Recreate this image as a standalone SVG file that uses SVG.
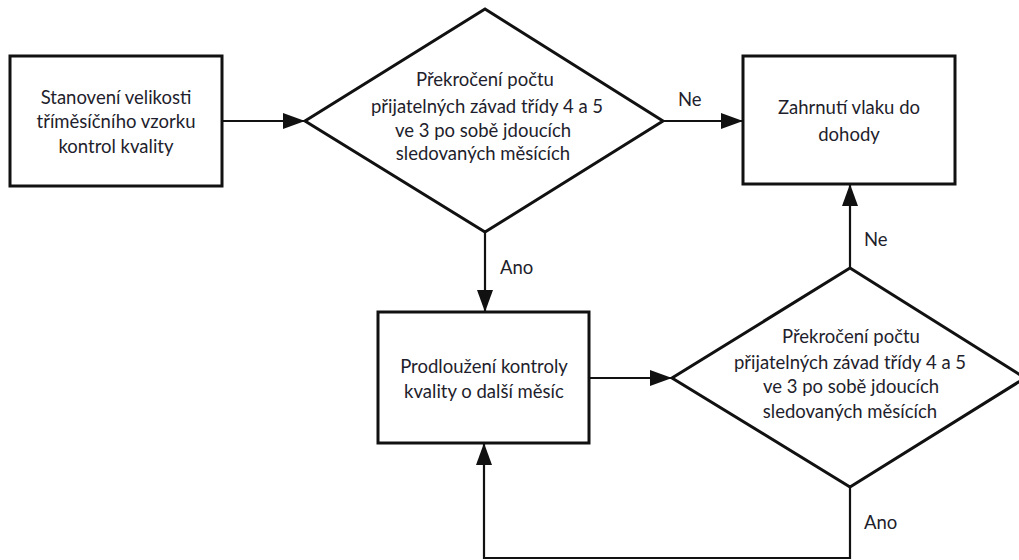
<svg xmlns="http://www.w3.org/2000/svg" width="1019" height="560" viewBox="0 0 1019 560">
  <style>
    .box { fill: #ffffff; stroke: #111111; stroke-width: 3; }
    .dec { fill: #ffffff; stroke: #111111; stroke-width: 3; stroke-linejoin: miter; }
    .edge { fill: none; stroke: #111111; stroke-width: 2.2; }
    .t { font-family: Lato, "Open Sans", "Liberation Sans", sans-serif; font-size: 18.5px; fill: #1e1e2c; text-anchor: middle; }
    .lbl { font-family: Lato, "Open Sans", "Liberation Sans", sans-serif; font-size: 18.5px; fill: #1e1e2c; text-anchor: start; }
  </style>
  <defs>
    <marker id="arrow" markerWidth="22" markerHeight="16" refX="21" refY="8" orient="auto" markerUnits="userSpaceOnUse">
      <path d="M0,0 L22,8 L0,16 Z" fill="#111111"/>
    </marker>
  </defs>
  <rect width="1019" height="560" fill="#ffffff"/>

  <!-- connectors -->
  <g id="connectors">
    <line class="edge" x1="222" y1="121" x2="304" y2="121" marker-end="url(#arrow)"/>
    <line class="edge" x1="663" y1="121" x2="742" y2="121" marker-end="url(#arrow)"/>
    <line class="edge" x1="485" y1="232" x2="485" y2="311" marker-end="url(#arrow)"/>
    <line class="edge" x1="589" y1="378" x2="671" y2="378" marker-end="url(#arrow)"/>
    <line class="edge" x1="850" y1="268" x2="850" y2="185" marker-end="url(#arrow)"/>
    <polyline class="edge" points="850,487 850,558 484,558 484,444" marker-end="url(#arrow)"/>
    <text class="lbl" x="678" y="106">Ne</text>
    <text class="lbl" x="500" y="274">Ano</text>
    <text class="lbl" x="864" y="246">Ne</text>
    <text class="lbl" x="864" y="529">Ano</text>
  </g>

  <!-- start: sample size -->
  <g id="n-start">
    <rect class="box" x="10" y="56" width="212" height="130"/>
    <text class="t" x="116" y="104">Stanovení velikosti</text>
    <text class="t" x="116" y="128">tříměsíčního vzorku</text>
    <text class="t" x="116" y="153">kontrol kvality</text>
  </g>

  <!-- first decision -->
  <g id="n-check1">
    <polygon class="dec" points="485,9 663,121 485,232 305,121"/>
    <text class="t" x="485" y="86">Překročení počtu</text>
    <text class="t" x="487" y="113">přijatelných závad třídy 4 a 5</text>
    <text class="t" x="483" y="137">ve 3 po sobě jdoucích</text>
    <text class="t" x="483" y="160">sledovaných měsících</text>
  </g>

  <!-- train included in agreement -->
  <g id="n-include">
    <rect class="box" x="743" y="56" width="212" height="128"/>
    <text class="t" x="849" y="114">Zahrnutí vlaku do</text>
    <text class="t" x="849" y="141">dohody</text>
  </g>

  <!-- extend quality check -->
  <g id="n-extend">
    <rect class="box" x="378" y="312" width="211" height="131"/>
    <text class="t" x="484" y="373">Prodloužení kontroly</text>
    <text class="t" x="484" y="398">kvality o další měsíc</text>
  </g>

  <!-- second decision -->
  <g id="n-check2">
    <polygon class="dec" points="850,268 1025,378 850,487 672,378"/>
    <text class="t" x="851" y="343">Překročení počtu</text>
    <text class="t" x="850" y="369">přijatelných závad třídy 4 a 5</text>
    <text class="t" x="851" y="393">ve 3 po sobě jdoucích</text>
    <text class="t" x="850" y="418">sledovaných měsících</text>
  </g>
</svg>
